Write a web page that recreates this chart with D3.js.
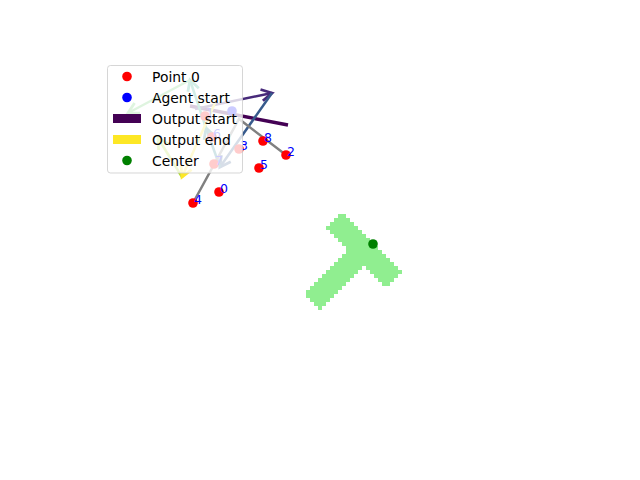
<!DOCTYPE html>
<html><head><meta charset="utf-8">
<script src="https://cdn.jsdelivr.net/npm/d3@7"></script>
<style>body{margin:0;background:#fff}svg{display:block}</style>
</head><body>
<svg id="c" width="640" height="480"></svg>
<script>
// ---- data ----
const pointIds = [0, 1, 2, 3, 4, 5, 6, 7, 8];
const pointX = [-43.6, -49.2, -16.8, -35.6, -54.0, -27.6, -46.4, -45.6, -26.0];
const pointY = [20.2, 50.6, 35.0, 37.4, 15.8, 29.8, 42.2, 31.4, 40.6];
const agentStart = [-38.4, 52.6];
const centerPt = [18.0, -0.6];
const linkX = [-54.0, -35.6, -16.8];
const linkY = [15.8, 49.4, 35.0];
const outStartX = [-55.2, -16.0];
const outStartY = [54.6, 47.0];
const arrowX1 = [-53.2, -22.4, -43.2, -48.8, -55.2, -58.4, -45.2];
const arrowY1 = [53.4, 59.8, 30.2, 45.8, 65.0, 26.2, 55.8];
const arrowX2 = [-22.4, -43.2, -48.8, -55.2, -80.0, -68.0, -58.4];
const arrowY2 = [59.8, 30.2, 45.8, 65.0, 51.8, 41.8, 26.2];
const arrowT = [0.12, 0.28, 0.45, 0.6, 0.75, 0.88, 1.0];
const shapeX = [5.6, 29.6, 22.8, 13.8, -3.6, -9.2, 7.6, -1.2];
const shapeY = [12.6, -11.4, -18.2, -9.2, -26.6, -19.8, -3.0, 5.8];
const legendLabels = ["Point 0", "Agent start", "Output start", "Output end", "Center"];

// ---- scales ----
const x = d3.scaleLinear().domain([-100, 100]).range([78, 578]);
const y = d3.scaleLinear().domain([-75, 75]).range([430, 55]);
const svg = d3.select("#c");
const FONT = "DejaVu Sans, sans-serif";

// ---- raster shape ----
const poly = shapeX.map((v, i) => [v, shapeY[i]]);
const cell = 1.6;
const cells = [];
for (let i = 0; i < 30; i++) {
  for (let j = 0; j < 30; j++) {
    const gx = -12 + i * cell, gy = -30 + j * cell;
    if (d3.polygonContains(poly, [gx + cell / 2, gy + cell / 2])) cells.push([gx, gy]);
  }
}
svg.append("g").selectAll("rect").data(cells).join("rect")
  .attr("x", d => x(d[0]))
  .attr("y", d => y(d[1] + cell))
  .attr("width", d => x(d[0] + cell) - x(d[0]) + 0.3)
  .attr("height", d => y(d[1]) - y(d[1] + cell) + 0.3)
  .attr("fill", "#90ee90")
  .attr("shape-rendering", "crispEdges");

// ---- output start line ----
svg.append("line")
  .attr("x1", x(outStartX[0])).attr("y1", y(outStartY[0]))
  .attr("x2", x(outStartX[1])).attr("y2", y(outStartY[1]))
  .attr("stroke", d3.interpolateViridis(0)).attr("stroke-width", 3.5);

// ---- arrows ----
const ag = svg.append("g");
arrowT.forEach((t, i) => {
  const x1 = x(arrowX1[i]), y1 = y(arrowY1[i]), x2 = x(arrowX2[i]), y2 = y(arrowY2[i]);
  const col = d3.interpolateViridis(t);
  const ang = Math.atan2(y2 - y1, x2 - x1);
  const hl = 12, ha = 0.5;
  const p1 = [x2 - hl * Math.cos(ang - ha), y2 - hl * Math.sin(ang - ha)];
  const p2 = [x2 - hl * Math.cos(ang + ha), y2 - hl * Math.sin(ang + ha)];
  ag.append("line").attr("x1", x1).attr("y1", y1).attr("x2", x2).attr("y2", y2)
    .attr("stroke", col).attr("stroke-width", 2.5);
  ag.append("path").attr("d", `M${p1[0]},${p1[1]}L${x2},${y2}L${p2[0]},${p2[1]}`)
    .attr("fill", "none").attr("stroke", col).attr("stroke-width", 2.8)
    .attr("stroke-linejoin", "miter");
});

// ---- gray links ----
svg.append("path")
  .attr("d", d3.line().x((d, i) => x(linkX[i])).y((d, i) => y(linkY[i]))(linkX))
  .attr("fill", "none").attr("stroke", "#808080").attr("stroke-width", 2.5);

// ---- points ----
svg.append("g").selectAll("circle").data(pointIds).join("circle")
  .attr("cx", (d, i) => x(pointX[i])).attr("cy", (d, i) => y(pointY[i]))
  .attr("r", 4.8).attr("fill", "red");
svg.append("g").selectAll("text").data(pointIds).join("text")
  .attr("x", (d, i) => x(pointX[i]) + 1).attr("y", (d, i) => y(pointY[i]) + 0.5)
  .attr("font-family", FONT).attr("font-size", 12.5).attr("fill", "blue")
  .text(d => d);

svg.append("circle").attr("cx", x(agentStart[0])).attr("cy", y(agentStart[1]))
  .attr("r", 4.8).attr("fill", "blue");
svg.append("circle").attr("cx", x(centerPt[0])).attr("cy", y(centerPt[1]))
  .attr("r", 4.8).attr("fill", "green");

// ---- legend ----
const lg = svg.append("g");
lg.append("rect").attr("x", 107.5).attr("y", 65.5).attr("width", 135).attr("height", 107.5)
  .attr("rx", 3).attr("fill", "white").attr("fill-opacity", 0.8)
  .attr("stroke", "#cccccc").attr("stroke-opacity", 0.8).attr("stroke-width", 1);
const kinds = ["dot", "dot", "line", "line", "dot"];
const kcol = ["red", "blue", d3.interpolateViridis(0), d3.interpolateViridis(1), "green"];
legendLabels.forEach((lab, i) => {
  const cy = 76.5 + i * 21;
  if (kinds[i] === "dot") {
    lg.append("circle").attr("cx", 127).attr("cy", cy).attr("r", 4.8).attr("fill", kcol[i]);
  } else {
    lg.append("rect").attr("x", 113).attr("y", cy - 4.5).attr("width", 28).attr("height", 9)
      .attr("fill", kcol[i]);
  }
  lg.append("text").attr("x", 152).attr("y", cy + 5).attr("font-family", FONT)
    .attr("font-size", 13.9).attr("fill", "black").text(lab);
});
</script>
</body></html>
